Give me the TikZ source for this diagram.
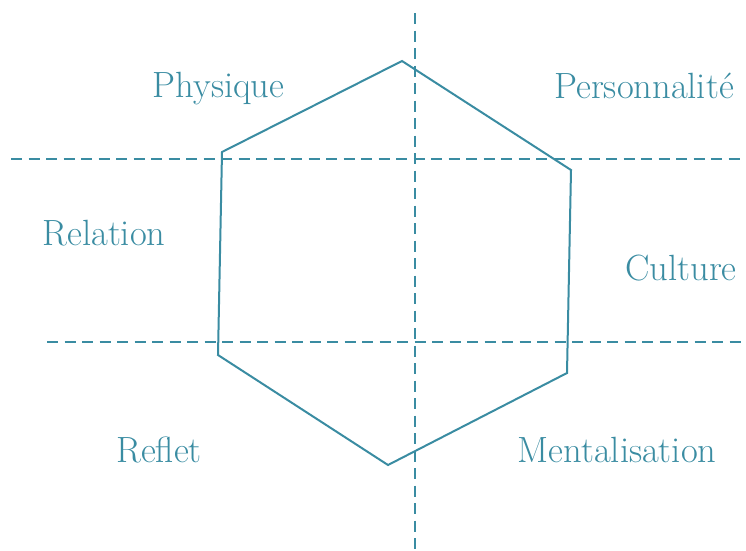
\documentclass[tikz,border=0pt]{standalone}
\usepackage{fontspec}
\definecolor{teal1}{RGB}{58,140,162}
\begin{document}
\begin{tikzpicture}[x=1pt,y=-1pt,
  axis/.style={draw=teal1, line width=1.6pt, dash pattern=on 11pt off 6.5pt},
  hexline/.style={draw=teal1, line width=2pt, line join=miter},
  lbl/.style={text=teal1, anchor=base, inner sep=0pt, font=\fontsize{36.5}{44}\selectfont}]
\useasboundingbox (0,0) rectangle (746,550);
% dashed axes
\coordinate (vt) at (415,13);
\coordinate (vb) at (415,550);
\coordinate (h1l) at (11,159);
\coordinate (h1r) at (740,159);
\coordinate (h2l) at (47,342);
\coordinate (h2r) at (745,342);
\draw[axis] (vt) -- (vb);
\draw[axis] (h1l) -- (h1r);
\draw[axis] (h2l) -- (h2r);
% hexagon
\coordinate (p1) at (402,61);
\coordinate (p2) at (571,170);
\coordinate (p3) at (567,373);
\coordinate (p4) at (388,465);
\coordinate (p5) at (218,355);
\coordinate (p6) at (222,152);
\draw[hexline] (p1) -- (p2) -- (p3) -- (p4) -- (p5) -- (p6) -- cycle;
% labels
\node[lbl] (phys) at (218.5,97) {Physique};
\node[lbl] (pers) at (644,98) {Personnalité};
\node[lbl] (rel) at (104,245) {Relation};
\node[lbl] (cult) at (681,280) {Culture};
\node[lbl] (refl) at (159,462) {Reflet};
\node[lbl] (ment) at (617,462) {Mentalisation};
\end{tikzpicture}
\end{document}
